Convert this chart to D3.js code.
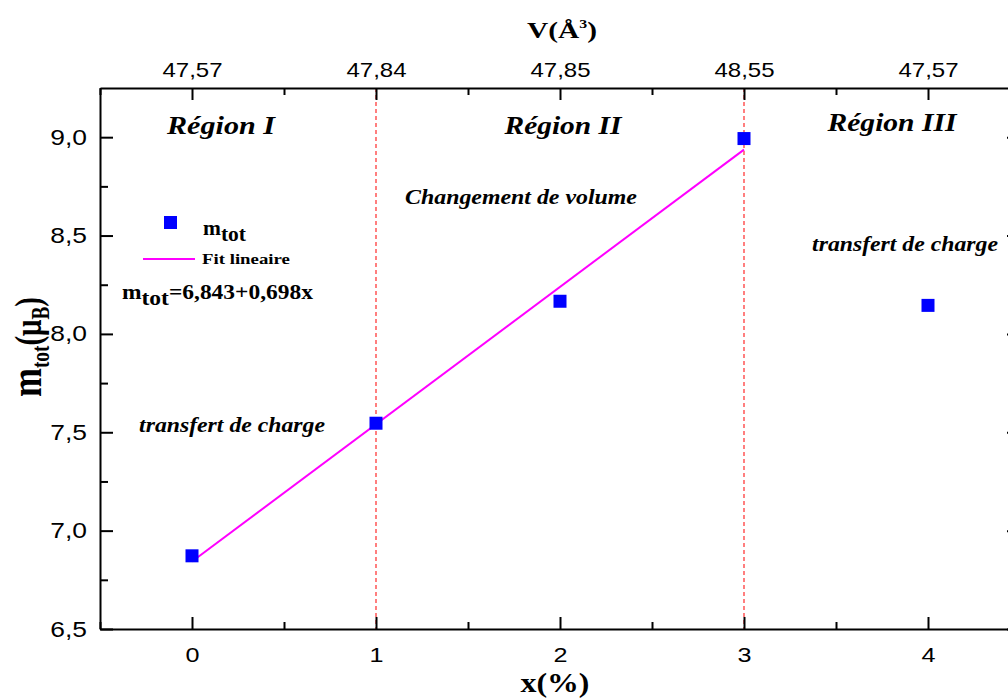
<!DOCTYPE html>
<html><head><meta charset="utf-8">
<script src="https://cdn.jsdelivr.net/npm/d3@7"></script>
<style>body{margin:0;background:#fff}svg{display:block}</style>
</head><body>
<script>
const xVals = [0, 1, 2, 3, 4];
const mTot = [6.872, 7.546, 8.166, 8.993, 8.145];
const topLabels = ["47,57", "47,84", "47,85", "48,55", "47,57"];
const fitIntercept = 6.843, fitSlope = 0.698;
const fitRange = [0, 3];
const regionBounds = [1, 3];
const yTicks = [6.5, 7.0, 7.5, 8.0, 8.5, 9.0];

const W = 1008, H = 700;
const svg = d3.select("body").append("svg").attr("width", W).attr("height", H);
const L = 100, R = 1020, T = 88, B = 629;
const x = d3.scaleLinear().domain([-0.5, 4.5]).range([L, R]);
const y = d3.scaleLinear().domain([6.5, 9.25]).range([B, T]);
const fmt = d => d3.format(".1f")(d).replace(".", ",");

function stretchBy(sel, s){
  sel.each(function(){
    const t = d3.select(this); const ax = +t.attr("x") || 0;
    t.attr("transform", `translate(${ax*(1-s)},0) scale(${s},1)`);
  });
}
function fitWidth(sel, w){
  const len = sel.node().getComputedTextLength();
  stretchBy(sel, w/len);
}

// dashed region lines
svg.selectAll(".dl").data(regionBounds).enter().append("line")
  .attr("x1", d => x(d)).attr("x2", d => x(d)).attr("y1", T).attr("y2", B)
  .attr("stroke", "#ff2a2a").attr("stroke-width", 1.2).attr("stroke-dasharray", "4,3");

// axes
const tickFont = "Liberation Sans, Arial, sans-serif";
function styleAxis(g, size){
  g.select(".domain").attr("stroke","#000").attr("stroke-width",2);
  g.selectAll(".tick line").attr("stroke","#000").attr("stroke-width",2);
  g.selectAll("text").attr("font-family",tickFont).attr("font-size",size).attr("fill","#000");
  stretchBy(g.selectAll("text"), 1.2);
}
function minor(g){ g.select(".domain").remove(); g.selectAll("line").attr("stroke","#000").attr("stroke-width",2); }
const xMajor = xVals, xMinor = [-0.5,0.5,1.5,2.5,3.5,4.5];
// bottom
const gb = svg.append("g").attr("transform",`translate(0,${B})`)
  .call(d3.axisBottom(x).tickValues(xMajor).tickFormat(d3.format("d")).tickSizeInner(-12).tickSizeOuter(0).tickPadding(18));
styleAxis(gb, 21);
svg.append("g").attr("transform",`translate(0,${B})`)
  .call(d3.axisBottom(x).tickValues(xMinor).tickFormat("").tickSizeInner(-7).tickSizeOuter(0)).call(minor);
// top
const gt = svg.append("g").attr("transform",`translate(0,${T})`)
  .call(d3.axisTop(x).tickValues(xMajor).tickFormat((d,i)=>topLabels[i]).tickSizeInner(-12).tickSizeOuter(0).tickPadding(11));
styleAxis(gt, 20);
svg.append("g").attr("transform",`translate(0,${T})`)
  .call(d3.axisTop(x).tickValues(xMinor).tickFormat("").tickSizeInner(-7).tickSizeOuter(0)).call(minor);
// left
const yMinor = [6.75,7.25,7.75,8.25,8.75];
const gl = svg.append("g").attr("transform",`translate(${L},0)`)
  .call(d3.axisLeft(y).tickValues(yTicks).tickFormat(fmt).tickSizeInner(-13).tickSizeOuter(0).tickPadding(13));
styleAxis(gl, 22);
svg.append("g").attr("transform",`translate(${L},0)`)
  .call(d3.axisLeft(y).tickValues(yMinor).tickFormat("").tickSizeInner(-8).tickSizeOuter(0)).call(minor);
// right
const gr = svg.append("g").attr("transform",`translate(${R},0)`)
  .call(d3.axisRight(y).tickValues(yTicks).tickFormat("").tickSizeInner(-13).tickSizeOuter(0));
styleAxis(gr, 20);
svg.append("g").attr("transform",`translate(${R},0)`)
  .call(d3.axisRight(y).tickValues(yMinor).tickFormat("").tickSizeInner(-8).tickSizeOuter(0)).call(minor);

// fit line
svg.append("line")
  .attr("x1", x(fitRange[0])).attr("y1", y(fitIntercept + fitSlope*fitRange[0]))
  .attr("x2", x(fitRange[1])).attr("y2", y(fitIntercept + fitSlope*fitRange[1]))
  .attr("stroke", "#ff00ff").attr("stroke-width", 2);

// points
const S = 13;
svg.selectAll(".pt").data(xVals).enter().append("rect")
  .attr("x", (d) => x(d) - S/2).attr("y", (d,i) => y(mTot[i]) - S/2)
  .attr("width", S).attr("height", S).attr("fill", "#0000ff");

// texts
const serif = "Liberation Serif, Times New Roman, serif";
function txt(t, px, py, size, anchor="middle", style="italic"){
  return svg.append("text").attr("x",px).attr("y",py).attr("font-family",serif)
    .attr("font-weight","bold").attr("font-style",style).attr("font-size",size)
    .attr("text-anchor",anchor).attr("fill","#000").text(t);
}
fitWidth(txt("Région I", 221, 134, 25), 108);
fitWidth(txt("Région II", 563, 134, 25), 117);
fitWidth(txt("Région III", 892, 131, 25), 129);
fitWidth(txt("Changement de volume", 521, 204, 20), 232);
fitWidth(txt("transfert de charge", 232, 432, 20), 186);
fitWidth(txt("transfert de charge", 905, 251, 20), 186);

// legend
svg.append("rect").attr("x",164).attr("y",216).attr("width",13).attr("height",13).attr("fill","#0000ff");
const lt = txt("", 203, 235, 20, "start", "normal");
lt.append("tspan").text("m");
lt.append("tspan").attr("dy",6).text("tot");
fitWidth(lt, 43);
svg.append("line").attr("x1",143).attr("x2",195).attr("y1",259).attr("y2",259).attr("stroke","#ff00ff").attr("stroke-width",2);
fitWidth(txt("Fit lineaire", 202, 264, 15, "start", "normal"), 88);
const eq = txt("", 122, 299, 20, "start", "normal");
eq.append("tspan").text("m");
eq.append("tspan").attr("dy",6).text("tot");
eq.append("tspan").attr("dy",-6).text("=6,843+0,698x");
fitWidth(eq, 191);

// axis titles
fitWidth(txt("x(%)", 555, 692, 27, "middle", "normal"), 69);
const vt = txt("", 562, 38, 24, "middle", "normal");
vt.append("tspan").text("V(Å");
vt.append("tspan").attr("dy",-10).attr("font-size",13).text("3");
vt.append("tspan").attr("dy",10).text(")");
fitWidth(vt, 70);

const yl = svg.append("text")
  .attr("font-family",serif).attr("font-weight","bold").attr("font-size",30).attr("text-anchor","middle");
yl.append("tspan").attr("font-size",36).text("m");
yl.append("tspan").attr("dy",6).attr("font-size",20).text("tot");
yl.append("tspan").attr("dy",-6).text("(μ");
yl.append("tspan").attr("dy",6).attr("font-size",20).text("B");
yl.append("tspan").attr("dy",-6).text(")");
const ylen = yl.node().getComputedTextLength();
yl.attr("transform",`translate(41,347) scale(1.25,${100/ylen}) rotate(-90)`);
</script>
</body></html>
